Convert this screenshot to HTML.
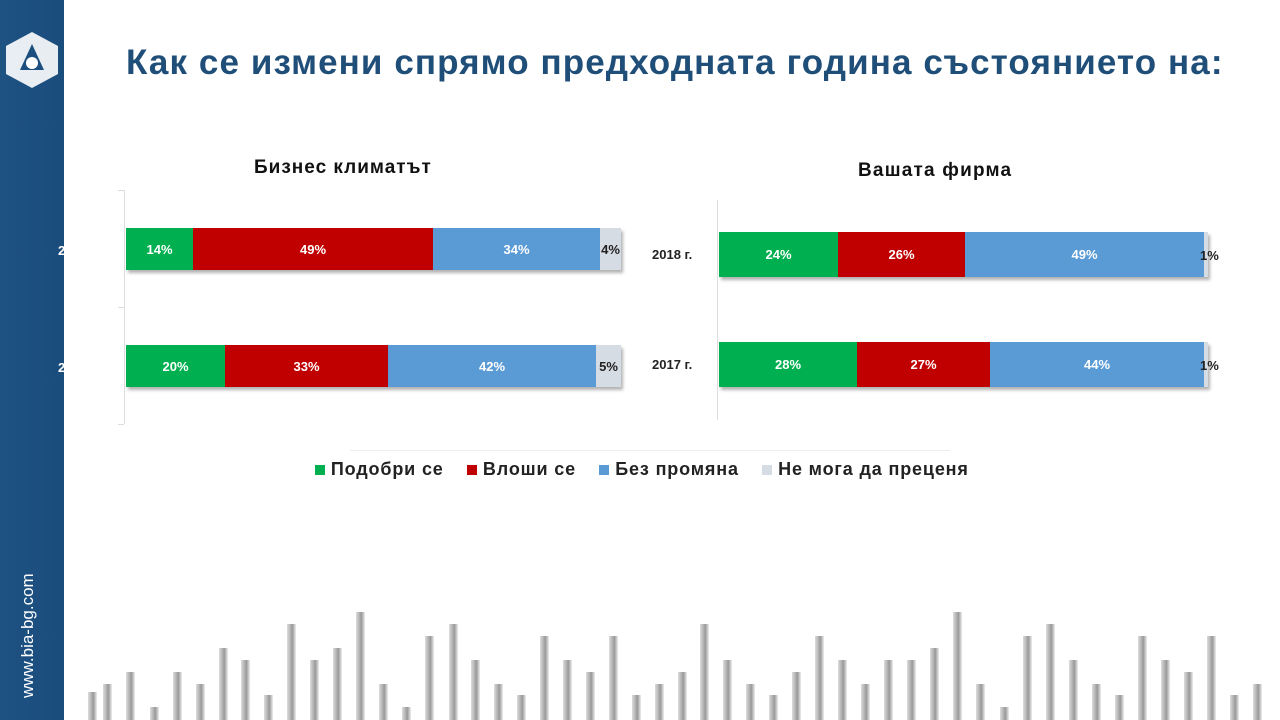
<!DOCTYPE html>
<html><head><meta charset="utf-8"><style>
body{margin:0;width:1280px;height:720px;position:relative;background:#fff;overflow:hidden;font-family:"Liberation Sans","DejaVu Sans",sans-serif}
.abs{position:absolute}
.side{left:0;top:0;width:64px;height:720px;background:linear-gradient(90deg,#1e5283,#1a4c7c)}
.seg{position:absolute;top:0;height:100%;color:#fff;font-weight:bold;font-size:13px;display:flex;align-items:center;justify-content:center}
.bar{position:absolute;box-shadow:2px 3px 3px rgba(0,0,0,.3)}
.g{background:#00b050}.r{background:#c00000}.b{background:#5b9bd5}.n{background:#d6dce4;color:#222}
.lab{position:absolute;font-weight:bold;font-size:13px;color:#222}
.dec{position:absolute;width:9px;bottom:0;background:linear-gradient(90deg,#ddd,#999 60%,#eee)}
</style></head><body>
<div class="abs side"></div>
<svg class="abs" style="left:4px;top:30px" width="56" height="60" viewBox="0 0 56 60">
<polygon points="28,2 54,16 54,44 28,58 2,44 2,16" fill="#fff" opacity=".9"/>
<polygon points="28,14 40,40 16,40" fill="#1c4f7e"/>
<circle cx="28" cy="33" r="6" fill="#fff"/>
</svg>
<div class="abs" style="left:18px;top:698px;transform:rotate(-90deg);transform-origin:0 0;color:#fff;font-size:17px;white-space:nowrap">www.bia-bg.com</div>
<div class="abs" style="left:126px;top:43px;font-size:35px;letter-spacing:1.1px;font-weight:bold;color:#1f4e79;white-space:nowrap">Как се измени спрямо предходната година състоянието на:</div>

<div class="abs" style="left:254px;top:157px;font-size:19px;letter-spacing:1px;font-weight:bold;color:#111">Бизнес климатът</div>
<div class="abs" style="left:858px;top:160px;font-size:19px;letter-spacing:1.2px;font-weight:bold;color:#111">Вашата фирма</div>
<div class="abs" style="left:58px;top:243px;color:#fff;font-weight:bold;font-size:13px">2</div>
<div class="abs" style="left:58px;top:360px;color:#fff;font-weight:bold;font-size:13px">2</div>

<div class="abs" style="left:124px;top:190px;width:1px;height:234px;background:#ddd"></div>
<div class="abs" style="left:118px;top:190px;width:6px;height:1px;background:#ddd"></div>
<div class="abs" style="left:118px;top:307px;width:6px;height:1px;background:#ddd"></div>
<div class="abs" style="left:118px;top:424px;width:6px;height:1px;background:#ddd"></div>
<div class="abs" style="left:717px;top:200px;width:1px;height:220px;background:#ddd"></div>

<div class="bar" style="left:126px;top:228px;width:495px;height:42px">
<div class="seg g" style="left:0;width:67px">14%</div><div class="seg r" style="left:67px;width:240px">49%</div><div class="seg b" style="left:307px;width:167px">34%</div><div class="seg n" style="left:474px;width:21px">4%</div></div>
<div class="bar" style="left:126px;top:345px;width:495px;height:42px">
<div class="seg g" style="left:0;width:99px">20%</div><div class="seg r" style="left:99px;width:163px">33%</div><div class="seg b" style="left:262px;width:208px">42%</div><div class="seg n" style="left:470px;width:25px">5%</div></div>

<div class="lab" style="left:652px;top:247px">2018 г.</div>
<div class="lab" style="left:652px;top:357px">2017 г.</div>
<div class="bar" style="left:719px;top:232px;width:489px;height:45px">
<div class="seg g" style="left:0;width:119px">24%</div><div class="seg r" style="left:119px;width:127px">26%</div><div class="seg b" style="left:246px;width:239px">49%</div><div class="seg n" style="left:485px;width:4px"></div></div>
<div class="bar" style="left:719px;top:342px;width:489px;height:45px">
<div class="seg g" style="left:0;width:138px">28%</div><div class="seg r" style="left:138px;width:133px">27%</div><div class="seg b" style="left:271px;width:214px">44%</div><div class="seg n" style="left:485px;width:4px"></div></div>
<div class="lab" style="left:1200px;top:248px">1%</div>
<div class="lab" style="left:1200px;top:358px">1%</div>

<div class="abs" style="left:350px;top:450px;width:600px;height:1px;background:#eee"></div>
<div class="abs" style="left:315px;top:459px;font-size:18px;letter-spacing:0.85px;font-weight:bold;color:#222;white-space:nowrap">
<span style="display:inline-block;width:10px;height:10px;background:#00b050"></span> Подобри се &nbsp;&nbsp;
<span style="display:inline-block;width:10px;height:10px;background:#c00000"></span> Влоши се &nbsp;&nbsp;
<span style="display:inline-block;width:10px;height:10px;background:#5b9bd5"></span> Без промяна &nbsp;&nbsp;
<span style="display:inline-block;width:10px;height:10px;background:#d6dce4"></span> Не мога да преценя</div>

<div id="d"></div>
<script>
var a=[[88,692],[103,684],[126,672],[150,707],[173,672],[196,684],[219,648],[241,660],[264,695],[287,624],[310,660],[333,648],[356,612],[379,684],[402,707],[425,636],[449,624],[471,660],[494,684],[517,695],[540,636],[563,660],[586,672],[609,636],[632,695],[655,684],[678,672],[700,624],[723,660],[746,684],[769,695],[792,672],[815,636],[838,660],[861,684],[884,660],[907,660],[930,648],[953,612],[976,684],[1000,707],[1023,636],[1046,624],[1069,660],[1092,684],[1115,695],[1138,636],[1161,660],[1184,672],[1207,636],[1230,695],[1253,684]];
var h='';a.forEach(function(p){h+='<div class="dec" style="left:'+p[0]+'px;top:'+p[1]+'px"></div>'});document.getElementById('d').innerHTML=h;
</script>
</body></html>
